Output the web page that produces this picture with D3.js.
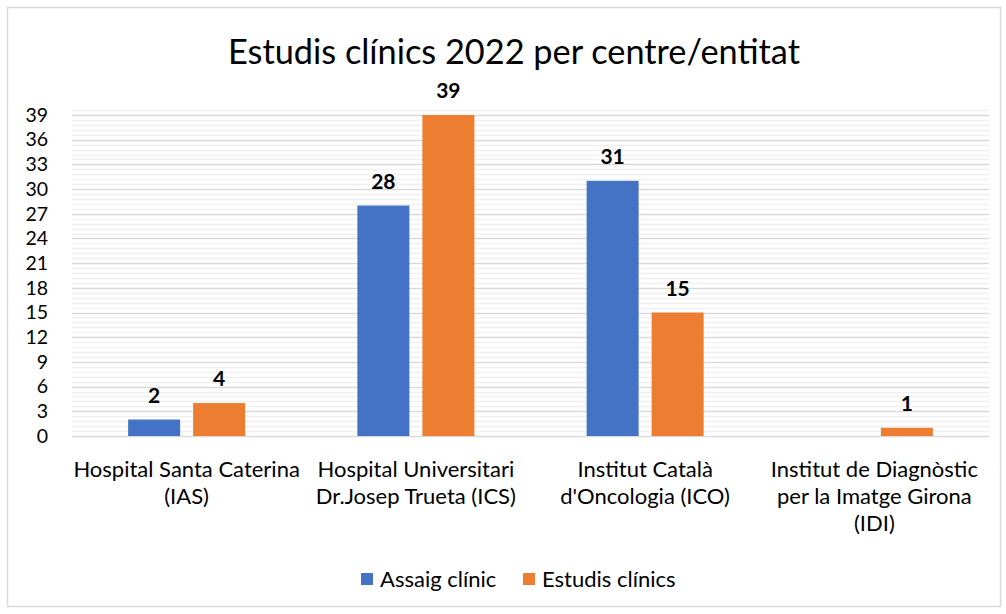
<!DOCTYPE html>
<html><head><meta charset="utf-8">
<script src="https://cdn.jsdelivr.net/npm/d3@7"></script>
<style>body{margin:0;background:#fff}svg{display:block}</style>
</head><body>
<script>
const categories = [
  ["Hospital Santa Caterina", "(IAS)"],
  ["Hospital Universitari", "Dr.Josep Trueta (ICS)"],
  ["Institut Català", "d'Oncologia (ICO)"],
  ["Institut de Diagnòstic", "per la Imatge Girona", "(IDI)"]
];
const seriesNames = ["Assaig clínic", "Estudis clínics"];
const assaig = [2, 28, 31, 0];
const estudis = [4, 39, 15, 1];
const yTicks = [0,3,6,9,12,15,18,21,24,27,30,33,36,39];
const colors = ["#4472C4", "#ED7D31"];
const title = "Estudis clínics 2022 per centre/entitat";

const W = 1006, H = 614;
const font = "Lato, 'Open Sans', sans-serif";
const svg = d3.select("body").append("svg").attr("width", W).attr("height", H);
svg.append("rect").attr("x", 7.5).attr("y", 7.5).attr("width", 993).attr("height", 599)
  .attr("fill", "#fff").attr("stroke", "#d9d9d9").attr("stroke-width", 1.5);

const x0 = d3.scaleBand().domain(d3.range(categories.length)).range([72, 989]);
const x1 = d3.scaleBand().domain([0, 1]).range([0, 117]).paddingInner(0.2);
const y = d3.scaleLinear().domain([0, 39]).range([436, 115]);

// minor gridlines
const minors = d3.range(0, 40, 0.6).filter(v => Math.abs(v / 3 - Math.round(v / 3)) > 1e-6);
svg.append("g").selectAll("line").data(minors).join("line")
  .attr("x1", 72).attr("x2", 989).attr("y1", d => Math.round(y(d)) + 0.5).attr("y2", d => Math.round(y(d)) + 0.5)
  .attr("stroke", "#f0f0f0").attr("stroke-width", 1.5);
// major gridlines
svg.append("g").selectAll("line").data(yTicks).join("line")
  .attr("x1", 72).attr("x2", 989).attr("y1", d => Math.round(y(d)) + 0.5).attr("y2", d => Math.round(y(d)) + 0.5)
  .attr("stroke", "#d9d9d9").attr("stroke-width", 1.5);

// y axis labels
const yAxis = d3.axisLeft(y).tickValues(yTicks).tickSize(0).tickPadding(0);
const ya = svg.append("g").attr("transform", "translate(48,0)").call(yAxis);
ya.select(".domain").remove();
ya.selectAll("text").attr("font-family", font).attr("font-size", 19.5).attr("fill", "#000");

// bars
const series = [assaig, estudis];
series.forEach((vals, si) => {
  const g = svg.append("g");
  vals.forEach((v, i) => {
    if (v <= 0) return;
    const bx = x0(i) + (x0.bandwidth() - 117) / 2 + x1(si);
    g.append("rect").attr("x", bx).attr("y", y(v)).attr("width", x1.bandwidth())
      .attr("height", y(0) - y(v)).attr("fill", colors[si]);
    g.append("text").attr("x", bx + x1.bandwidth() / 2).attr("y", y(v) - 17)
      .attr("text-anchor", "middle").attr("font-family", font).attr("font-weight", "bold")
      .attr("font-size", 21).text(v);
  });
});

// category labels
categories.forEach((lines, i) => {
  const t = svg.append("text").attr("text-anchor", "middle").attr("font-family", font)
    .attr("font-size", 22).attr("fill", "#000");
  lines.forEach((l, k) => {
    t.append("tspan").attr("x", x0(i) + x0.bandwidth() / 2).attr("y", 477 + k * 27).text(l);
  });
});

// title
svg.append("text").attr("x", 514).attr("y", 64).attr("text-anchor", "middle")
  .attr("font-family", font).attr("font-size", 34.3).attr("fill", "#000").text(title);

// legend
const legX = [361, 523];
seriesNames.forEach((n, i) => {
  svg.append("rect").attr("x", legX[i]).attr("y", 573).attr("width", 12).attr("height", 12).attr("fill", colors[i]);
  svg.append("text").attr("x", legX[i] + 19).attr("y", 587).attr("font-family", font)
    .attr("font-size", 22).attr("fill", "#000").text(n);
});
</script>
</body></html>
